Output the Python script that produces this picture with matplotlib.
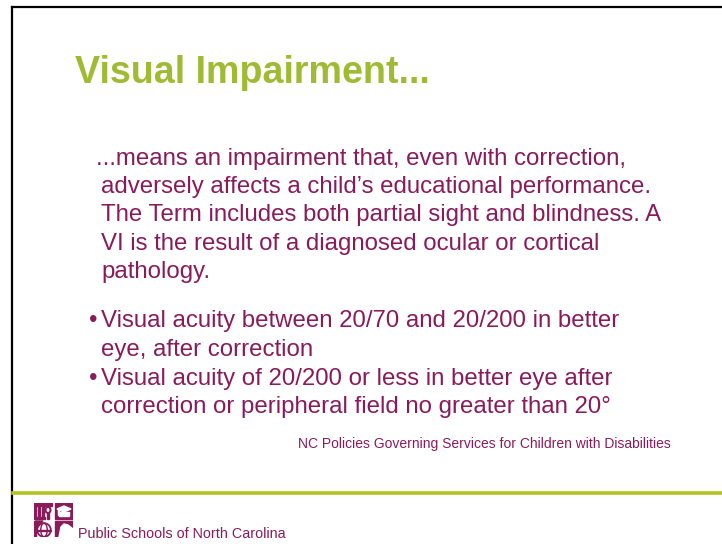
import matplotlib
matplotlib.use("Agg")
import matplotlib.pyplot as plt
from matplotlib.lines import Line2D
from matplotlib.patches import Rectangle, Polygon, Circle, Ellipse

W, H = 722, 544
title = "Visual Impairment..."
definition_lines = [
    "...means an impairment that, even with correction,",
    "adversely affects a child\u2019s educational performance.",
    "The Term includes both partial sight and blindness. A",
    "VI is the result of a diagnosed ocular or cortical",
    "pathology.",
]
bullet_items = [
    ["Visual acuity between 20/70 and 20/200 in better", "eye, after correction"],
    ["Visual acuity of 20/200 or less in better eye after",
     "correction or peripheral field no greater than 20\u00b0"],
]
source_note = "NC Policies Governing Services for Children with Disabilities"
footer = "Public Schools of North Carolina"

GREEN_T = "#9fbb33"
GREEN_L = "#b3c322"
MAROON = "#8a1b5b"
FONT = "Liberation Sans"
BODY = 17.3

fig = plt.figure(figsize=(W / 100, H / 100), dpi=100)
fig.patch.set_facecolor("white")

def fx(x):
    return x / W

def fy(y):
    return 1 - y / H

# border (top and left)
fig.add_artist(Line2D([fx(12), fx(12)], [fy(7), fy(H)], color="black", lw=1.6))
fig.add_artist(Line2D([fx(12), fx(W)], [fy(7), fy(7)], color="black", lw=1.6))

# title
fig.text(fx(75), fy(83), title, fontsize=27.1, fontweight="bold", color=GREEN_T,
         family=FONT, va="baseline", ha="left")

# definition paragraph
base = 165
step = 28.2
for i, line in enumerate(definition_lines):
    x = 96 if i == 0 else 101
    fig.text(fx(x), fy(base + i * step), line, fontsize=BODY, color=MAROON,
             family=FONT, va="baseline", ha="left")

# bullets
y = 327
for item in bullet_items:
    fig.text(fx(89), fy(y), "\u2022", fontsize=BODY, color=MAROON, family=FONT,
             va="baseline", ha="left")
    for line in item:
        fig.text(fx(101), fy(y), line, fontsize=BODY, color=MAROON, family=FONT,
                 va="baseline", ha="left")
        y += 28.8

# source note
fig.text(fx(671), fy(448), source_note, fontsize=10, color=MAROON, family=FONT,
         va="baseline", ha="right")

# green rule
fig.add_artist(Line2D([fx(13), fx(W)], [fy(492.5), fy(492.5)], color=GREEN_L, lw=2.6))

# logo (approximate drawing), axes in pixel units: x 34..73, y 503..537
LX0, LY0, LW, LH = 34, 503, 39, 34
ax = fig.add_axes([fx(LX0), fy(LY0 + LH), LW / W, LH / H])
ax.set_xlim(0, LW)
ax.set_ylim(LH, 0)
ax.axis("off")
qw, qh = 18, 16
rx, ry = 21, 18
# top-left: maroon columns / pediment
ax.add_patch(Rectangle((0, 0), qw, 3, color=MAROON))
ax.add_patch(Rectangle((0, 0), 1.5, qh, color=MAROON))
for cx in (3.5, 7.5):
    ax.add_patch(Rectangle((cx, 4), 2.2, 10, color=MAROON))
ax.add_patch(Rectangle((2, 14), 9, 2, color=MAROON))
ax.add_patch(Ellipse((14, 7), 5, 6, fill=False, ec=MAROON, lw=1.5))
ax.add_patch(Rectangle((13, 10), 2, 6, color=MAROON))
# top-right: maroon square with white mortarboard
ax.add_patch(Rectangle((rx, 0), qw, qh, color=MAROON))
ax.add_patch(Polygon([[rx + 2, 6], [rx + 9, 3], [rx + 16, 6], [rx + 9, 9]], color="white"))
ax.add_patch(Rectangle((rx + 4, 9), 10, 3.5, color="white"))
ax.add_patch(Rectangle((rx + 2.5, 6), 1, 6, color="white"))
# bottom-left: globe outline
ax.add_patch(Rectangle((0, ry), 1.5, qh, color=MAROON))
gx, gy = 10, ry + 9
ax.add_patch(Circle((gx, gy), 6.8, fill=False, ec=MAROON, lw=1.3))
ax.add_patch(Ellipse((gx, gy), 6.5, 13.6, fill=False, ec=MAROON, lw=1.0))
ax.add_patch(Rectangle((gx - 6.8, gy - 0.5), 13.6, 1.0, color=MAROON))
ax.add_patch(Polygon([[1.5, ry], [9, ry], [3, ry + 6]], color=MAROON))
# bottom-right: maroon square with white silhouette
ax.add_patch(Rectangle((rx, ry), qw, qh, color=MAROON))
ax.add_patch(Polygon([[rx + 4, LH], [rx + 6, ry + 6], [rx + 9, ry + 3], [rx + 13, ry + 4],
                      [rx + qw, ry + 8], [rx + qw, LH]], color="white"))

fig.text(fx(78), fy(538), footer, fontsize=10.4, color=MAROON, family=FONT,
         va="baseline", ha="left")

fig.savefig("out.png", dpi=100, facecolor="white")
